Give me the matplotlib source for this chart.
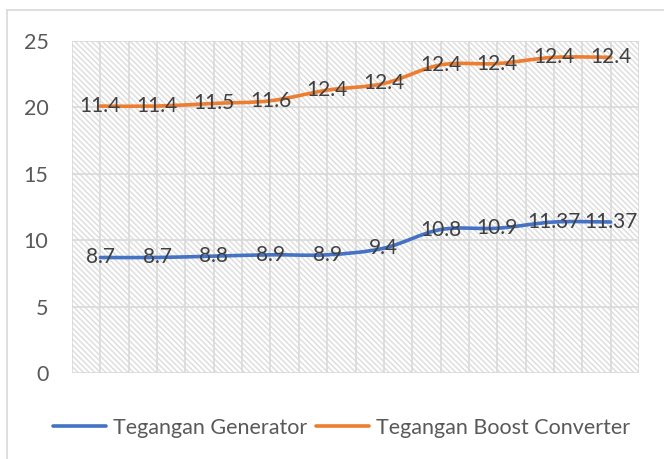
import numpy as np
import matplotlib
matplotlib.use('Agg')
import matplotlib.pyplot as plt
from matplotlib.path import Path
from matplotlib.patches import PathPatch, Rectangle
from matplotlib.lines import Line2D

plt.rcParams['font.family'] = ['Lato', 'DejaVu Sans']
plt.rcParams['hatch.linewidth'] = 1.0

# data (stacked line chart: labels show the raw values)
generator = [8.7, 8.7, 8.8, 8.9, 8.9, 9.4, 10.8, 10.9, 11.37, 11.37]
boost = [11.4, 11.4, 11.5, 11.6, 12.4, 12.4, 12.4, 12.4, 12.4, 12.4]
gen_labels = ['8.7', '8.7', '8.8', '8.9', '8.9', '9.4', '10.8', '10.9', '11.37', '11.37']
boost_labels = ['11.4', '11.4', '11.5', '11.6', '12.4', '12.4', '12.4', '12.4', '12.4', '12.4']
names = ['Tegangan Generator', 'Tegangan Boost Converter']
colors = ['#4472C4', '#ED7D31']
yticks = [0, 5, 10, 15, 20, 25]

x = np.arange(len(generator))
gen = np.array(generator)
top = gen + np.array(boost)


def smooth_path(xs, ys, t=1/6):
    # bezier curve through the points (like excel's smoothed line)
    verts = [(xs[0], ys[0])]
    codes = [Path.MOVETO]
    n = len(xs)
    for i in range(n - 1):
        x0, y0 = (xs[i-1], ys[i-1]) if i > 0 else (xs[i], ys[i])
        x1, y1 = xs[i], ys[i]
        x2, y2 = xs[i+1], ys[i+1]
        x3, y3 = (xs[i+2], ys[i+2]) if i + 2 < n else (x2, y2)
        c1 = (x1 + (x2 - x0) * t, y1 + (y2 - y0) * t)
        c2 = (x2 - (x3 - x1) * t, y2 - (y3 - y1) * t)
        verts += [c1, c2, (x2, y2)]
        codes += [Path.CURVE4] * 3
    return Path(verts, codes)


fig = plt.figure(figsize=(6.64, 4.59), dpi=100)
ax = fig.add_axes([72/664, 86/459, 567/664, 332/459])

# hatched plot area
ax.add_patch(Rectangle((-0.5, 0), 10, 25, facecolor='white', edgecolor='#dcdcdc',
                       hatch='\\' * 6, linewidth=0, zorder=0))

ax.set_xlim(-0.5, 9.5)
ax.set_ylim(0, 25)
ax.set_yticks(yticks)
ax.set_xticks([])
for v in np.arange(-0.5, 9.6, 0.5):
    ax.axvline(v, color='#d9d9d9', lw=1.2, zorder=1)
for v in yticks:
    ax.axhline(v, color='#d9d9d9', lw=1.2, zorder=1)

for s in ax.spines.values():
    s.set_visible(False)
ax.tick_params(axis='y', length=0, pad=17, labelsize=15.5, labelcolor='#595959')

for ys, c in zip([gen, top], colors):
    ax.add_patch(PathPatch(smooth_path(x, ys), facecolor='none', edgecolor=c,
                           lw=2.6, capstyle='round', joinstyle='round', zorder=3))

for xi, yi, lab in zip(x, gen, gen_labels):
    ax.text(xi, yi, lab, ha='center', va='center', fontsize=15, color='#404040', zorder=4)
for xi, yi, lab in zip(x, top, boost_labels):
    ax.text(xi, yi, lab, ha='center', va='center', fontsize=15, color='#404040', zorder=4)

handles = [Line2D([], [], color=c, lw=2.6, solid_capstyle='round') for c in colors]
fig.legend(handles, names, loc='center', bbox_to_anchor=(0.514, 1 - 428/459), ncol=2,
           frameon=False, fontsize=15.5, labelcolor='#595959', handlelength=2.5,
           handletextpad=0.3, columnspacing=0.4)

# chart border (cropped at right and bottom)
fig.add_artist(Line2D([7/664, 7/664], [0, 1 - 10/459], color='#d9d9d9', lw=1.2))
fig.add_artist(Line2D([7/664, 1], [1 - 10/459, 1 - 10/459], color='#d9d9d9', lw=1.2))

fig.savefig('out.png', dpi=100)
